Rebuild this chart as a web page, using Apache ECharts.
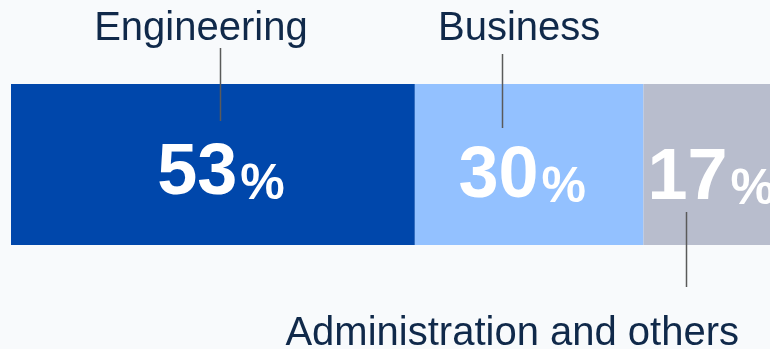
<!DOCTYPE html>
<html>
<head>
<meta charset="utf-8">
<script src="https://cdn.jsdelivr.net/npm/echarts@6/dist/echarts.min.js"></script>
<style>
  html, body { margin: 0; padding: 0; background: #f8fafc; }
  #chart { width: 770px; height: 349px; }
</style>
</head>
<body>
<div id="chart"></div>
<script>
// Share of staff by field
const categories = ['Engineering', 'Business', 'Administration and others'];
const shares = [53, 30, 17];

// Styling
const FONT = '"Liberation Sans", Arial, Helvetica, sans-serif';
const segmentColors = ['#0047ab', '#93c1ff', '#b8bdcd'];
const nameColor = '#10294a';
const leaderColor = '#5a5a5a';
// value label nudges [dx, dy] in px
const valueLabelOffsets = [[8, 10], [-7, 13], [3, 15]];
// callout layout: which edge, leader/name x-shift from segment centre, leader ends relative to that edge
const callouts = [
  { side: 'top',    lineDx: 7,   nameDx: -12,  lineFrom: -36, lineTo: 37,  nameDy: -35 },
  { side: 'top',    lineDx: -27, nameDx: -10,  lineFrom: -30, lineTo: 44,  nameDy: -35 },
  { side: 'bottom', lineDx: -22, nameDx: -196, lineFrom: -33, lineTo: 42,  nameDy: 109 }
];

// cumulative start/end of each segment
const starts = [];
let acc = 0;
shares.forEach(v => { starts.push(acc); acc += v; });

const barSeries = categories.map((name, i) => ({
  name: name,
  type: 'bar',
  stack: 'total',
  barWidth: '100%',
  silent: true,
  itemStyle: { color: segmentColors[i] },
  label: {
    show: true,
    position: 'inside',
    offset: valueLabelOffsets[i],
    formatter: p => '{n|' + p.value + '}{p|%}',
    rich: {
      n: { fontFamily: FONT, fontWeight: 'bold', fontSize: 72, lineHeight: 72, color: '#ffffff', verticalAlign: 'bottom' },
      p: { fontFamily: FONT, fontWeight: 'bold', fontSize: 50, lineHeight: 50, color: '#ffffff', verticalAlign: 'bottom', padding: [0, 0, 0, 3] }
    }
  },
  data: [shares[i]]
}));

const calloutSeries = {
  type: 'custom',
  clip: false,
  silent: true,
  z: 5,
  encode: { x: [0, 1], y: 2 },
  data: categories.map((c, i) => [starts[i], starts[i] + shares[i], 0, i]),
  renderItem: (params, api) => {
    const i = api.value(3);
    const a = api.coord([api.value(0), 0]);
    const b = api.coord([api.value(1), 0]);
    const band = api.size([0, 1])[1];
    const cx = (a[0] + b[0]) / 2;
    const cfg = callouts[i];
    const edge = cfg.side === 'top' ? a[1] - band / 2 : a[1] + band / 2;
    const lx = Math.round(cx + cfg.lineDx) + 0.5;
    return {
      type: 'group',
      children: [
        {
          type: 'line',
          shape: { x1: lx, y1: edge + cfg.lineFrom, x2: lx, y2: edge + cfg.lineTo },
          style: { stroke: leaderColor, lineWidth: 1.5 }
        },
        {
          type: 'text',
          x: cx + cfg.nameDx,
          y: edge + cfg.nameDy,
          style: {
            text: categories[i],
            font: '40px ' + FONT,
            fill: nameColor,
            align: 'center',
            verticalAlign: 'bottom'
          }
        }
      ]
    };
  }
};

const chart = echarts.init(document.getElementById('chart'), null, { renderer: 'canvas' });
chart.setOption({
  backgroundColor: '#f8fafc',
  animation: false,
  grid: { left: 11, top: 84, width: 762, height: 161, containLabel: false, outerBoundsMode: 'none' },
  xAxis: { type: 'value', min: 0, max: 100, show: false },
  yAxis: { type: 'category', data: ['share'], show: false },
  series: barSeries.concat([calloutSeries])
});
</script>
</body>
</html>
